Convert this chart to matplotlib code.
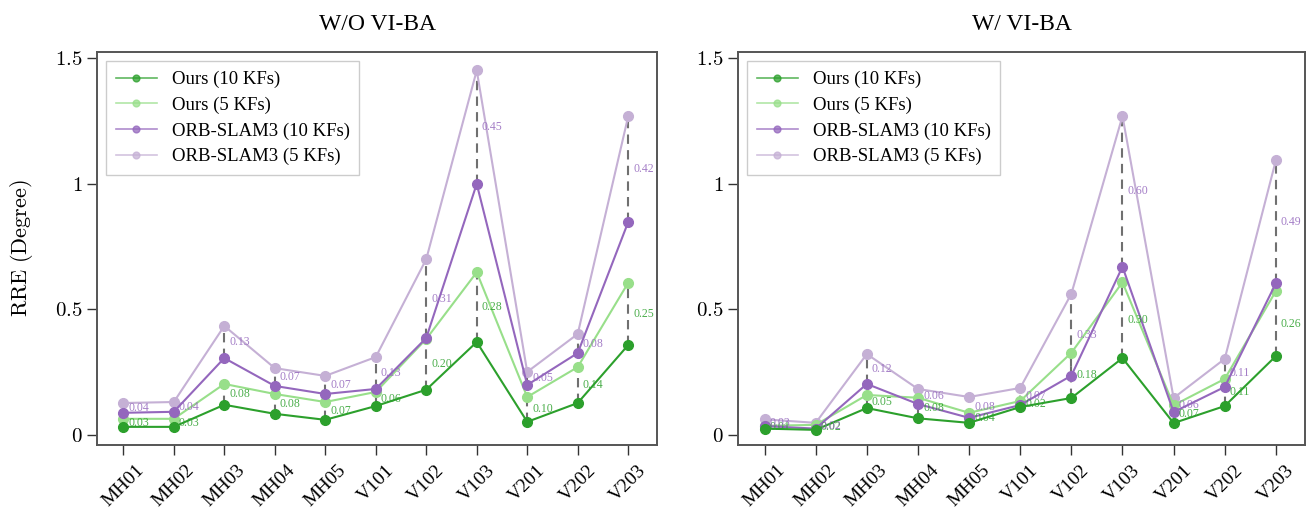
import matplotlib
matplotlib.use("Agg")
import matplotlib.pyplot as plt
import numpy as np

plt.rcParams['font.family'] = ['Liberation Serif', 'DejaVu Serif']
plt.rcParams['mathtext.fontset'] = 'cm'

sequences = ['MH01', 'MH02', 'MH03', 'MH04', 'MH05',
             'V101', 'V102', 'V103', 'V201', 'V202', 'V203']

# W/O VI-BA
wo_ours_10 = [0.032, 0.032, 0.120, 0.084, 0.060, 0.115, 0.180, 0.370, 0.052, 0.127, 0.358]
wo_ours_5 = [0.064, 0.064, 0.203, 0.163, 0.131, 0.171, 0.382, 0.648, 0.151, 0.270, 0.606]
wo_orb_10 = [0.088, 0.092, 0.306, 0.195, 0.163, 0.183, 0.386, 1.000, 0.199, 0.326, 0.848]
wo_orb_5 = [0.127, 0.131, 0.434, 0.266, 0.235, 0.310, 0.700, 1.452, 0.251, 0.402, 1.269]

# W/ VI-BA
w_ours_10 = [0.025, 0.020, 0.107, 0.066, 0.048, 0.111, 0.147, 0.306, 0.047, 0.115, 0.314]
w_ours_5 = [0.036, 0.040, 0.159, 0.148, 0.088, 0.135, 0.327, 0.608, 0.118, 0.223, 0.573]
w_orb_10 = [0.035, 0.025, 0.203, 0.123, 0.068, 0.119, 0.236, 0.670, 0.091, 0.191, 0.604]
w_orb_5 = [0.062, 0.048, 0.322, 0.183, 0.151, 0.187, 0.562, 1.270, 0.147, 0.303, 1.094]

panels = [('W/O VI-BA', wo_ours_10, wo_ours_5, wo_orb_10, wo_orb_5),
          ('W/ VI-BA', w_ours_10, w_ours_5, w_orb_10, w_orb_5)]

c_ours10 = '#2ca02c'
c_ours5 = '#98df8a'
c_orb10 = '#9467bd'
c_orb5 = '#c5b0d5'

fig = plt.figure(figsize=(13.15, 5.21), dpi=100)
axes = [fig.add_axes([0.0738, 0.146, 0.4258, 0.754]),
        fig.add_axes([0.5612, 0.146, 0.4312, 0.754])]

x = np.arange(len(sequences))

for ax, (title, o10, o5, r10, r5) in zip(axes, panels):
    o10, o5, r10, r5 = map(np.array, (o10, o5, r10, r5))

    # dashed gap lines
    for i in x:
        ax.plot([i, i], [o10[i], o5[i]], color='#707070', ls=(0, (4.5, 3)), lw=1.5, zorder=1)
        ax.plot([i, i], [r10[i], r5[i]], color='#707070', ls=(0, (4.5, 3)), lw=1.5, zorder=1)

    ax.plot(x, o10, '-o', color=c_ours10, lw=1.5, ms=7, label='Ours (10 KFs)', zorder=4)
    ax.plot(x, o5, '-o', color=c_ours5, lw=1.5, ms=7, label='Ours (5 KFs)', zorder=3)
    ax.plot(x, r10, '-o', color=c_orb10, lw=1.5, ms=7, label='ORB-SLAM3 (10 KFs)', zorder=3)
    ax.plot(x, r5, '-o', color=c_orb5, lw=1.5, ms=7, label='ORB-SLAM3 (5 KFs)', zorder=2)

    for i in x:
        d = o5[i] - o10[i]
        ax.text(i + 0.1, (o5[i] + o10[i]) / 2, f'{d:.2f}', color=c_ours10, alpha=0.85,
                fontsize=8.5, ha='left', va='center', zorder=5)
        d = r5[i] - r10[i]
        ax.text(i + 0.1, (r5[i] + r10[i]) / 2, f'{d:.2f}', color=c_orb10, alpha=0.85,
                fontsize=8.5, ha='left', va='center', zorder=5)

    ax.set_xlim(-0.52, 10.57)
    ax.set_ylim(-0.04, 1.525)
    ax.set_yticks([0, 0.5, 1, 1.5])
    ax.set_yticklabels([r'$0$', r'$0.5$', r'$1$', r'$1.5$'], fontsize=15)
    ax.set_xticks(x)
    ax.set_xticklabels(sequences, rotation=45, fontsize=14)
    ax.tick_params(axis='both', direction='out', length=7, width=1, color='#333333')
    ax.tick_params(axis='x', pad=5)
    for s in ax.spines.values():
        s.set_color('#555555')
        s.set_linewidth(1.4)
    ax.set_title(title, fontsize=17, pad=16)

    leg = ax.legend(loc='upper left', fontsize=13.5, fancybox=False, framealpha=1,
                    edgecolor='#cccccc', markerscale=0.7, handlelength=2.2,
                    borderpad=0.5, labelspacing=0.45)
    for h in leg.get_lines():
        h.set_alpha(0.75)
        h.set_linewidth(1.2)

axes[0].set_ylabel(r'$\mathrm{RRE\ (Degree)}$', fontsize=16, labelpad=14)

fig.savefig('out.png', dpi=100)
